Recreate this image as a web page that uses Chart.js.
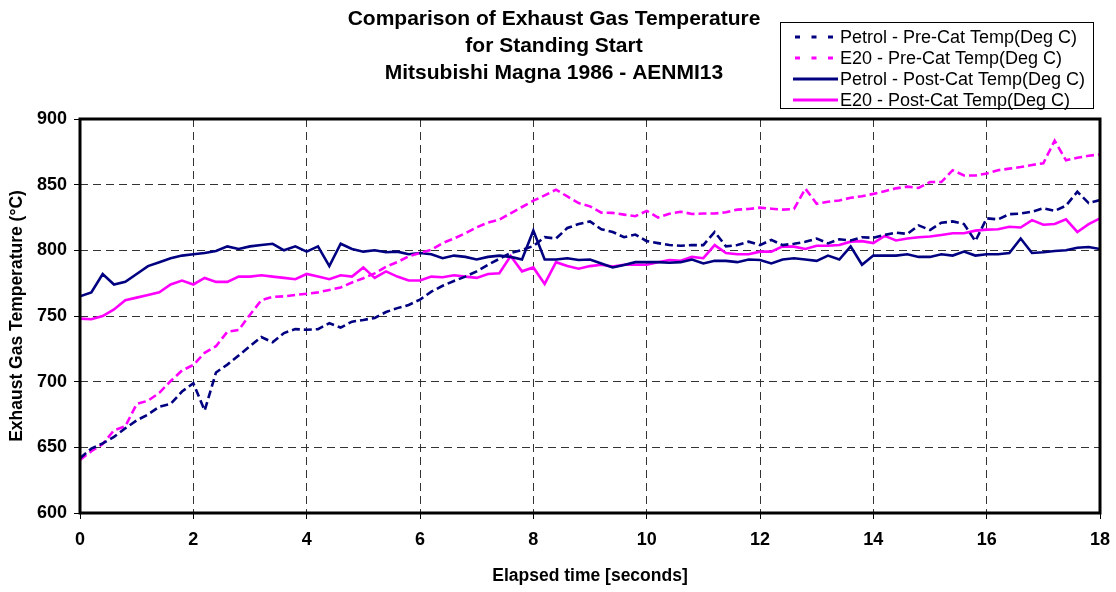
<!DOCTYPE html>
<html>
<head>
<meta charset="utf-8">
<script src="https://cdn.jsdelivr.net/npm/chart.js@4.4.1/dist/chart.umd.min.js"></script>
<style>
  body { margin: 0; background: #fff; }
  canvas { display: block; }
</style>
</head>
<body>
<canvas id="egtChart" width="1116" height="592"></canvas>
<script>
// sample times, every 0.2 s from 0 to 18
const times = [];
for (let i = 0; i <= 90; i++) times.push(Math.round(i * 2) / 10);

const seriesLabels = [
  'Petrol - Pre-Cat Temp(Deg C)',
  'E20 - Pre-Cat Temp(Deg C)',
  'Petrol - Post-Cat Temp(Deg C)',
  'E20 - Post-Cat Temp(Deg C)'
];

const petrolPre = [641.7, 649, 653, 658, 664.5, 670.5, 675, 681, 683, 692.5,
  698.8, 678, 707, 713, 720, 727, 734, 730, 737, 740,
  739.5, 740, 744.5, 741.2, 745.7, 747, 748.5, 753, 756, 758.4,
  762.5, 768.5, 773, 776.7, 780, 784, 789, 793.5, 798, 800.3,
  803.3, 810, 809, 817, 820, 822, 816, 814, 810, 812,
  807, 805.5, 804, 803.5, 804, 804, 814, 803, 804, 806.6,
  804, 808, 804, 805, 806.5, 809, 805.3, 808.4, 807.5, 810,
  809.5, 811.7, 813.4, 812.5, 819, 815.5, 821, 822, 820, 807,
  824.4, 823.6, 827.5, 828, 829.4, 832, 830, 834, 844.6, 836,
  838.3];

const e20Pre = [640.4, 647, 652.5, 663, 666, 683, 685.5, 691.5, 700.5, 708.5,
  712.7, 722, 727, 738, 739.3, 751, 762, 764.5, 765, 766,
  767, 768, 769.8, 771.7, 775.5, 778.7, 782.5, 787.5, 791, 795.5,
  798, 800.5, 805.5, 809, 813, 817.5, 821.2, 823.3, 828.2, 833,
  837.8, 841.8, 846.2, 841, 836, 833.5, 828.7, 828.5, 827.2, 826,
  830, 825, 827.8, 829.4, 827.7, 828, 828, 829, 831, 831.5,
  832.5, 831.7, 831, 831.5, 847, 835.5, 837, 838, 840, 841.2,
  843, 845, 847.2, 848.5, 847.5, 852, 852, 861, 857, 857,
  858.5, 861, 862.2, 863.4, 865, 866.3, 883.5, 868.5, 870.5, 872,
  873];

const petrolPost = [765, 768, 782, 774, 776, 782, 788, 791, 794, 796,
  797, 798, 799.5, 803, 801, 803, 804, 805, 800, 803,
  799, 803, 788, 805, 801, 799, 800, 798.5, 799, 797,
  798, 797, 794, 796, 795, 793, 795, 796, 795, 793,
  815, 793, 793, 794, 792.6, 793, 790, 787, 788.8, 791,
  791, 791, 790.6, 791, 793, 790, 792, 792, 791, 793,
  792.6, 790, 793, 794, 793, 792, 796, 793, 803, 789,
  796, 796, 796, 797, 795, 795, 797, 796, 799, 796,
  797, 797, 798, 809, 798, 798.5, 799.5, 800, 802, 802.5,
  801];

const e20Post = [748, 747.5, 750, 755, 762, 764, 766, 768, 774, 777,
  774, 779, 776, 776, 780, 780, 781, 780, 779, 778,
  782, 780, 778, 781, 780, 787, 779, 784, 780, 777,
  777, 780, 779.5, 781, 780, 779, 782, 782.5, 795.7, 784,
  787, 774.4, 791, 788, 786, 788, 789, 787.6, 789, 789,
  789, 791, 792.6, 792, 795, 794, 804, 798, 797, 797,
  799, 799, 803, 802.8, 801, 803.5, 803.5, 804, 806.6, 807,
  805.5, 811, 807.5, 809, 810, 810.5, 811.7, 813, 813, 815,
  815.8, 816, 818, 817.4, 823, 819.5, 820, 823.6, 814, 820,
  824.4];

const titleLines = [
  'Comparison of Exhaust Gas Temperature',
  'for Standing Start',
  'Mitsubishi Magna 1986 - AENMI13'
];

const NAVY = '#000080';
const PINK = '#ff00ff';
const FONT = '"Liberation Sans", Arial, sans-serif';

function toPoints(vals) {
  return times.map((t, i) => ({ x: t, y: vals[i] }));
}

function makeSet(label, vals, color, dashed) {
  return {
    label: label,
    data: toPoints(vals),
    borderColor: color,
    backgroundColor: color,
    borderWidth: 2.6,
    borderDash: dashed ? [8, 4] : [],
    pointRadius: 0,
    tension: 0,
    fill: false
  };
}

// titles, frame and the boxed legend at top right
const decor = {
  id: 'decor',
  afterDraw(chart) {
    const c = chart.ctx;
    const a = chart.chartArea;
    c.save();
    c.setLineDash([]);
    c.strokeStyle = '#000';
    c.lineWidth = 3;
    c.strokeRect(a.left, a.top, a.right - a.left, a.bottom - a.top);

    c.fillStyle = '#000';
    c.font = 'bold 21px ' + FONT;
    c.textAlign = 'center';
    c.textBaseline = 'middle';
    titleLines.forEach((t, i) => c.fillText(t, 554, 19 + i * 27));

    c.lineWidth = 1;
    c.strokeRect(780.5, 22.5, 313, 86);
    c.font = '18px ' + FONT;
    c.textAlign = 'left';
    chart.data.datasets.forEach((ds, i) => {
      const y = 37 + i * 21;
      c.strokeStyle = ds.borderColor;
      c.lineWidth = 3;
      if (ds.borderDash.length) {
        c.setLineDash([5, 11.5]);
        c.beginPath(); c.moveTo(795, y); c.lineTo(836, y); c.stroke();
      } else {
        c.setLineDash([]);
        c.beginPath(); c.moveTo(793, y); c.lineTo(838, y); c.stroke();
      }
      c.fillStyle = '#000';
      c.fillText(ds.label, 840, y + 1);
    });
    c.restore();
  }
};

new Chart(document.getElementById('egtChart'), {
  type: 'line',
  data: {
    datasets: [
      makeSet(seriesLabels[0], petrolPre, NAVY, true),
      makeSet(seriesLabels[1], e20Pre, PINK, true),
      makeSet(seriesLabels[2], petrolPost, NAVY, false),
      makeSet(seriesLabels[3], e20Post, PINK, false)
    ]
  },
  options: {
    responsive: false,
    animation: false,
    layout: { padding: { left: 0, right: 16, top: 119, bottom: 0 } },
    plugins: {
      legend: { display: false },
      title: { display: false },
      tooltip: { enabled: false }
    },
    scales: {
      x: {
        type: 'linear',
        min: 0,
        max: 18,
        ticks: { stepSize: 2, color: '#000', font: { family: FONT, size: 18, weight: 'bold' }, padding: 10, maxRotation: 0 },
        grid: { color: '#333', lineWidth: 1, tickLength: 6, tickColor: '#000', tickBorderDash: [] },
        border: { display: false, dash: [8, 5] },
        title: { display: true, text: 'Elapsed time [seconds]', color: '#000', font: { family: FONT, size: 17.5, weight: 'bold' }, padding: { top: 4, bottom: 5 } },
        afterFit(scale) {
          scale.height = 79;
          scale.paddingLeft = 0;
          scale.paddingRight = 0;
        }
      },
      y: {
        min: 600,
        max: 900,
        ticks: { stepSize: 50, color: '#000', font: { family: FONT, size: 18, weight: 'bold' }, padding: 7 },
        grid: { color: '#333', lineWidth: 1, tickLength: 6, tickColor: '#000', tickBorderDash: [] },
        border: { display: false, dash: [8, 5] },
        title: { display: true, text: 'Exhaust Gas Temperature (°C)', color: '#000', font: { family: FONT, size: 17.5, weight: 'bold' }, padding: { top: 7, bottom: 4 } },
        afterFit(scale) {
          scale.width = 80;
          scale.paddingTop = 0;
          scale.paddingBottom = 0;
        }
      }
    }
  },
  plugins: [decor]
});
</script>
</body>
</html>
